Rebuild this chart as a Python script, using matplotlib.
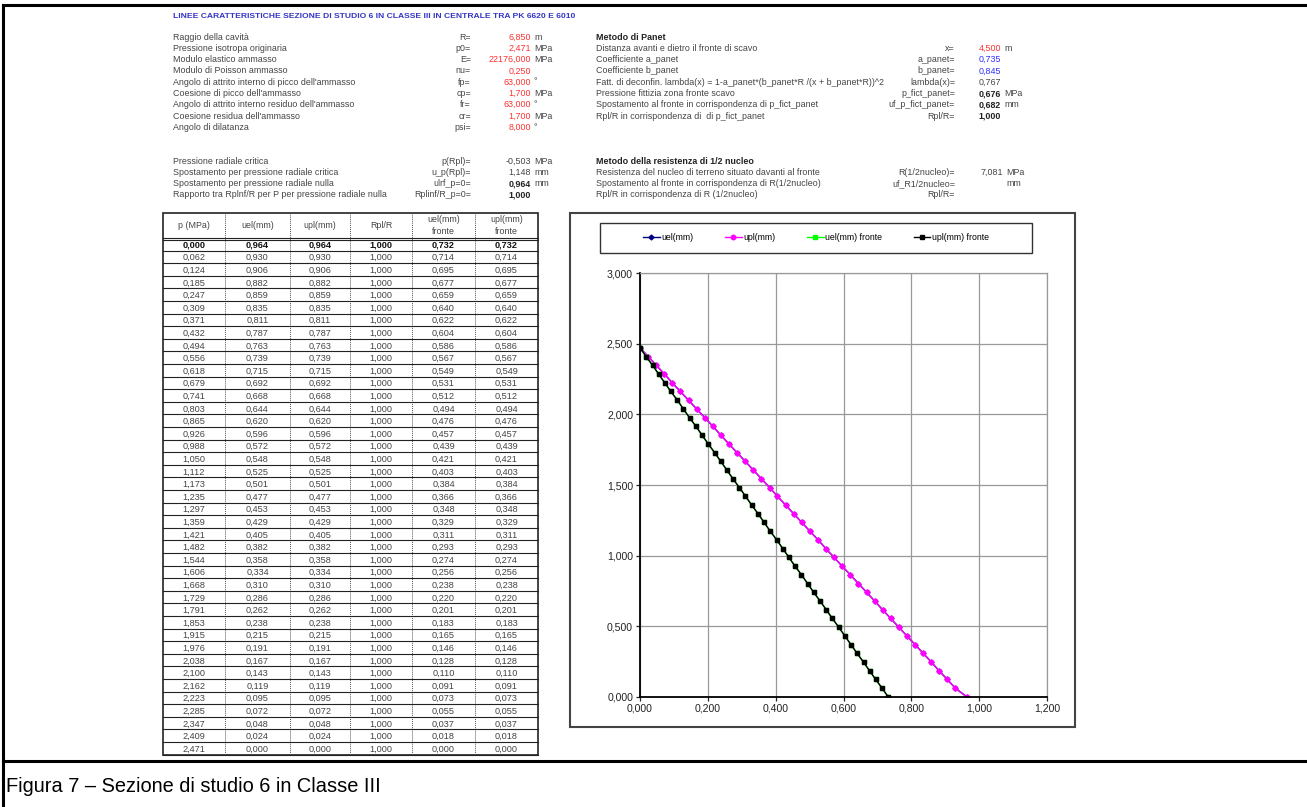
import matplotlib.pyplot as plt
from matplotlib.patches import Rectangle
from matplotlib.ticker import FuncFormatter, MultipleLocator

plt.rcParams['font.family'] = ['Liberation Sans', 'DejaVu Sans']

W, H = 1307, 807

# tabella pressione / spostamenti
p_mpa = [0.000, 0.062, 0.124, 0.185, 0.247, 0.309, 0.371, 0.432, 0.494, 0.556,
         0.618, 0.679, 0.741, 0.803, 0.865, 0.926, 0.988, 1.050, 1.112, 1.173,
         1.235, 1.297, 1.359, 1.421, 1.482, 1.544, 1.606, 1.668, 1.729, 1.791,
         1.853, 1.915, 1.976, 2.038, 2.100, 2.162, 2.223, 2.285, 2.347, 2.409,
         2.471]
uel = [0.964, 0.930, 0.906, 0.882, 0.859, 0.835, 0.811, 0.787, 0.763, 0.739,
       0.715, 0.692, 0.668, 0.644, 0.620, 0.596, 0.572, 0.548, 0.525, 0.501,
       0.477, 0.453, 0.429, 0.405, 0.382, 0.358, 0.334, 0.310, 0.286, 0.262,
       0.238, 0.215, 0.191, 0.167, 0.143, 0.119, 0.095, 0.072, 0.048, 0.024,
       0.000]
upl = list(uel)
rpl_r = [1.000] * len(p_mpa)
uel_fronte = [0.732, 0.714, 0.695, 0.677, 0.659, 0.640, 0.622, 0.604, 0.586, 0.567,
              0.549, 0.531, 0.512, 0.494, 0.476, 0.457, 0.439, 0.421, 0.403, 0.384,
              0.366, 0.348, 0.329, 0.311, 0.293, 0.274, 0.256, 0.238, 0.220, 0.201,
              0.183, 0.165, 0.146, 0.128, 0.110, 0.091, 0.073, 0.055, 0.037, 0.018,
              0.000]
upl_fronte = list(uel_fronte)

col_headers = ['p (MPa)', 'uel(mm)', 'upl(mm)', 'Rpl/R', 'uel(mm)\nfronte', 'upl(mm)\nfronte']

# parametri di input
par_labels = ['Raggio della cavità', 'Pressione isotropa originaria',
              'Modulo elastico ammasso', 'Modulo di Poisson ammasso',
              "Angolo di attrito interno di picco dell'ammasso",
              "Coesione di picco dell'ammasso",
              "Angolo di attrito interno residuo dell'ammasso",
              "Coesione residua dell'ammasso", 'Angolo di dilatanza']
par_sym = ['R=', 'p0=', 'E=', 'nu=', 'fp=', 'cp=', 'fr=', 'cr=', 'psi=']
par_val = ['6,850', '2,471', '22176,000', '0,250', '63,000', '1,700', '63,000', '1,700', '8,000']
par_unit = ['m', 'MPa', 'MPa', '', '°', 'MPa', '°', 'MPa', '°']

crit_labels = ['Pressione radiale critica', 'Spostamento per pressione radiale critica',
               'Spostamento per pressione radiale nulla',
               'Rapporto tra Rplnf/R per P per pressione radiale nulla']
crit_sym = ['p(Rpl)=', 'u_p(Rpl)=', 'ulrf_p=0=', 'Rplinf/R_p=0=']
crit_val = ['-0,503', '1,148', '0,964', '1,000']
crit_unit = ['MPa', 'mm', 'mm', '']
crit_bold = [False, False, True, True]

panet_labels = ['Distanza avanti e dietro il fronte di scavo', 'Coefficiente a_panet',
                'Coefficiente b_panet',
                'Fatt. di deconfin. lambda(x) = 1-a_panet*(b_panet*R /(x + b_panet*R))^2',
                'Pressione fittizia zona fronte scavo',
                'Spostamento al fronte in corrispondenza di p_fict_panet',
                'Rpl/R in corrispondenza di  di p_fict_panet']
panet_sym = ['x=', 'a_panet=', 'b_panet=', 'lambda(x)=', 'p_fict_panet=', 'uf_p_fict_panet=', 'Rpl/R=']
panet_val = ['4,500', '0,735', '0,845', '0,767', '0,676', '0,682', '1,000']
panet_unit = ['m', '', '', '', 'MPa', 'mm', '']
panet_col = ['#ff3030', '#3030ff', '#3030ff', '#444444', '#222222', '#222222', '#222222']
panet_bold = [False, False, False, False, True, True, True]

nucleo_labels = ['Resistenza del nucleo di terreno situato davanti al fronte',
                 'Spostamento al fronte in corrispondenza di R(1/2nucleo)',
                 'Rpl/R in corrispondenza di R (1/2nucleo)']
nucleo_sym = ['R(1/2nucleo)=', 'uf_R1/2nucleo=', 'Rpl/R=']
nucleo_val = ['7,081', '', '']
nucleo_unit = ['MPa', 'mm', '']

fig = plt.figure(figsize=(W / 100, H / 100), dpi=100)

# piano di sfondo in coordinate pixel
bg = fig.add_axes([0, 0, 1, 1])
bg.set_xlim(0, W)
bg.set_ylim(H, 0)
bg.axis('off')

# cornice del documento
bg.plot([3, W], [5, 5], color='black', lw=2.2)
bg.plot([3, 3], [5, H], color='black', lw=2.2)
bg.plot([3, W], [761, 761], color='black', lw=2.2)
bg.text(6, 786, 'Figura 7 – Sezione di studio 6 in Classe III', fontsize=14.4,
        va='center', ha='left', color='black')

fs = 6.4
tc = '#444444'
bg.text(173, 16, 'LINEE CARATTERISTICHE SEZIONE DI STUDIO 6 IN CLASSE III IN CENTRALE TRA PK 6620 E 6010',
        fontsize=6.1, fontweight='bold', color='#3535c8', va='center')

# blocco parametri a sinistra
y0, dy = 37, 11.3
for i in range(len(par_labels)):
    y = y0 + i * dy
    bg.text(173, y, par_labels[i], fontsize=fs, color=tc, va='center')
    bg.text(471, y, par_sym[i], fontsize=fs, color=tc, va='center', ha='right')
    bg.text(531, y, par_val[i], fontsize=fs, color='#ff3030', va='center', ha='right')
    bg.text(534, y, par_unit[i], fontsize=fs, color=tc, va='center')

y0 = 161
for i in range(len(crit_labels)):
    y = y0 + i * dy
    w = 'bold' if crit_bold[i] else 'normal'
    c = '#222222' if crit_bold[i] else tc
    bg.text(173, y, crit_labels[i], fontsize=fs, color=tc, va='center')
    bg.text(471, y, crit_sym[i], fontsize=fs, color=tc, va='center', ha='right')
    bg.text(531, y, crit_val[i], fontsize=fs, color=c, fontweight=w, va='center', ha='right')
    bg.text(534, y, crit_unit[i], fontsize=fs, color=tc, va='center')

# metodo di Panet
bg.text(596, 37, 'Metodo di Panet', fontsize=fs, fontweight='bold', color='#222222', va='center')
for i in range(len(panet_labels)):
    y = 37 + (i + 1) * dy
    w = 'bold' if panet_bold[i] else 'normal'
    bg.text(596, y, panet_labels[i], fontsize=fs, color=tc, va='center')
    bg.text(955, y, panet_sym[i], fontsize=fs, color=tc, va='center', ha='right')
    bg.text(1001, y, panet_val[i], fontsize=fs, color=panet_col[i], fontweight=w, va='center', ha='right')
    bg.text(1004, y, panet_unit[i], fontsize=fs, color=tc, va='center')

# metodo della resistenza di 1/2 nucleo
bg.text(596, 161, 'Metodo della resistenza di 1/2 nucleo', fontsize=fs, fontweight='bold',
        color='#222222', va='center')
for i in range(len(nucleo_labels)):
    y = 161 + (i + 1) * dy
    bg.text(596, y, nucleo_labels[i], fontsize=fs, color=tc, va='center')
    bg.text(955, y, nucleo_sym[i], fontsize=fs, color=tc, va='center', ha='right')
    bg.text(1003, y, nucleo_val[i], fontsize=fs, color=tc, va='center', ha='right')
    bg.text(1006, y, nucleo_unit[i], fontsize=fs, color=tc, va='center')

# tabella
col_x = [163, 225, 290, 350, 412, 475, 538]
top, head_bot, row_h = 213, 238, 12.6
n = len(p_mpa)
bottom = head_bot + n * row_h
tfs = 6.6
for x in col_x[1:-1]:
    bg.plot([x, x], [top, bottom], color='#555555', lw=0.7, ls=(0, (1, 1)))
for i in range(n + 1):
    y = head_bot + i * row_h
    bg.plot([col_x[0], col_x[-1]], [y, y], color='#222222', lw=0.8)
bg.plot([col_x[0], col_x[-1]], [head_bot + 1.5, head_bot + 1.5], color='#222222', lw=0.8)
bg.add_patch(Rectangle((col_x[0], top), col_x[-1] - col_x[0], bottom - top,
                       fill=False, edgecolor='#222222', lw=1.2))
for j, h in enumerate(col_headers):
    xc = (col_x[j] + col_x[j + 1]) / 2
    bg.text(xc, (top + head_bot) / 2, h, fontsize=fs, color=tc, ha='center', va='center',
            linespacing=1.5)
columns = [p_mpa, uel, upl, rpl_r, uel_fronte, upl_fronte]
for i in range(n):
    yc = head_bot + (i + 0.5) * row_h + 0.8
    w = 'bold' if i == 0 else 'normal'
    c = '#111111' if i == 0 else tc
    for j, col in enumerate(columns):
        xc = (col_x[j] + col_x[j + 1]) / 2
        bg.text(xc, yc, f'{col[i]:.3f}'.replace('.', ','), fontsize=tfs, color=c,
                fontweight=w, ha='center', va='center')

# cornice del grafico
bg.add_patch(Rectangle((570, 213), 505, 514, fill=False, edgecolor='#444444', lw=1.5))

# grafico p - u
ax = fig.add_axes([640 / W, 1 - 697 / H, 407 / W, 424 / H])
ax.plot(uel, p_mpa, color='#000080', marker='D', ms=2.5, lw=1.0, label='uel(mm)')
ax.plot(upl, p_mpa, color='#ff00ff', marker='o', ms=3.2, lw=1.0, label='upl(mm)')
ax.plot(uel_fronte, p_mpa, color='#00ff00', marker='s', ms=3.0, lw=1.0, label='uel(mm) fronte')
ax.plot(upl_fronte, p_mpa, color='black', marker='s', ms=3.4, lw=1.0, label='upl(mm) fronte')
ax.set_xlim(0, 1.2)
ax.set_ylim(0, 3.0)
ax.xaxis.set_major_locator(MultipleLocator(0.2))
ax.yaxis.set_major_locator(MultipleLocator(0.5))
fmt = FuncFormatter(lambda v, pos: f'{v:.3f}'.replace('.', ','))
ax.xaxis.set_major_formatter(fmt)
ax.yaxis.set_major_formatter(fmt)
ax.grid(True, color='#999999', lw=0.9)
ax.set_axisbelow(True)
ax.tick_params(labelsize=7.6, colors='#222222', length=3, width=0.9, pad=2)
for s in ['left', 'bottom']:
    ax.spines[s].set_color('black')
    ax.spines[s].set_linewidth(1.3)
for s in ['top', 'right']:
    ax.spines[s].set_color('#999999')
    ax.spines[s].set_linewidth(0.9)

leg = ax.legend(loc='center', ncol=4, fontsize=6.3,
                bbox_to_anchor=(600 / W, 1 - 253 / H, 432 / W, 30 / H),
                bbox_transform=fig.transFigure, borderaxespad=0, fancybox=False,
                handlelength=1.9, handletextpad=0.2, columnspacing=3.6, framealpha=1)
leg.get_frame().set_visible(False)
bg.add_patch(Rectangle((600, 223), 432, 30, fill=False, edgecolor='#333333', lw=1.0))

plt.savefig('out.png', dpi=100)
